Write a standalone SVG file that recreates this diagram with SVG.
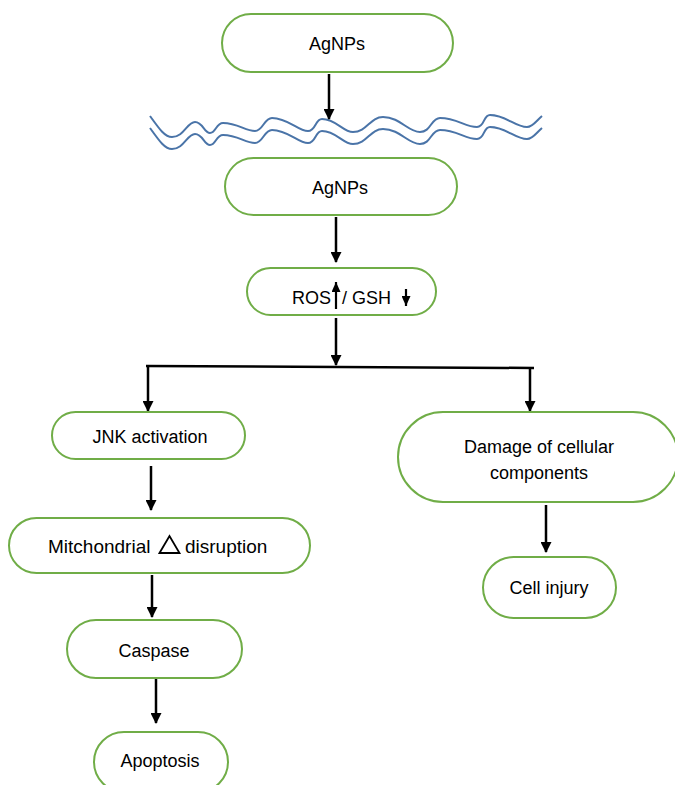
<svg xmlns="http://www.w3.org/2000/svg" xmlns:xlink="http://www.w3.org/1999/xlink" width="675" height="785" viewBox="0 0 675 785">
<style>
.node{fill:#fff;stroke:#70ad47;stroke-width:2}
.lbl{font-family:"Liberation Sans",Arial,sans-serif;font-size:18px;fill:#000;text-anchor:middle}
.edge{stroke:#000;stroke-width:2.5;fill:none}
.wave{stroke:#4a74a8;stroke-width:2;fill:none}
.sm{stroke:#000;stroke-width:2.2;fill:none}
</style>
<defs>
<marker id="ah" markerUnits="userSpaceOnUse" markerWidth="11" markerHeight="11" refX="10" refY="5.5" orient="auto" viewBox="0 0 11 11">
<path d="M0,0 L11,5.5 L0,11 z" fill="#000"/>
</marker>
<marker id="ahs" markerUnits="userSpaceOnUse" markerWidth="10" markerHeight="9" refX="10" refY="4.5" orient="auto" viewBox="0 0 10 9">
<path d="M0,0 L10,4.5 L0,9 z" fill="#000"/>
</marker>
<path id="wv" d="M150,116 C160,130 165,137 172,137 C184,137 187,122 195,122 C203,122 204,133 210,133 C216,133 216,123 223,123 C238,123 245,131 255,131 C263,131 264,118 272,118 C288,118 298,131 308,131 C316,131 315,119 322,119 C336,119 343,132 353,132 C367,132 370,117 383,117 C400,117 408,132 420,132 C431,132 431,118 440,118 C457,118 465,127 477,127 C485,127 483,115 490,115 C506,115 515,127 527,127 C533,127 536,121 542,116"/>
</defs>

<g id="membrane">
<use xlink:href="#wv" class="wave"/>
<use xlink:href="#wv" class="wave" transform="translate(0,12)"/>
</g>

<g id="connectors">
<line class="edge" x1="329" y1="74" x2="329" y2="119" marker-end="url(#ah)"/>
<line class="edge" x1="336" y1="217" x2="336" y2="262" marker-end="url(#ah)"/>
<line class="edge" x1="336" y1="318" x2="336" y2="365" marker-end="url(#ah)"/>
<line class="edge" x1="146" y1="366" x2="534" y2="368"/>
<line class="edge" x1="148" y1="366" x2="148" y2="411" marker-end="url(#ah)"/>
<line class="edge" x1="530" y1="368" x2="530" y2="411" marker-end="url(#ah)"/>
<line class="edge" x1="151" y1="466" x2="151" y2="510" marker-end="url(#ah)"/>
<line class="edge" x1="152" y1="575" x2="152" y2="617" marker-end="url(#ah)"/>
<line class="edge" x1="156" y1="679" x2="156" y2="723" marker-end="url(#ah)"/>
<line class="edge" x1="546" y1="505" x2="546" y2="552" marker-end="url(#ah)"/>
</g>

<g id="agnps-top">
<rect class="node" x="222" y="14" width="231" height="58" rx="29"/>
<text class="lbl" x="337" y="50">AgNPs</text>
</g>

<g id="agnps-inside">
<rect class="node" x="225" y="158" width="232" height="57" rx="28.5"/>
<text class="lbl" x="340" y="194">AgNPs</text>
</g>

<g id="ros-gsh">
<rect class="node" x="247" y="268" width="189" height="47" rx="23.5"/>
<text class="lbl" x="292" y="304" style="text-anchor:start">ROS</text>
<line class="sm" x1="336" y1="309" x2="336" y2="282" marker-end="url(#ahs)"/>
<text class="lbl" x="342" y="304" style="text-anchor:start">/ GSH</text>
<line class="sm" x1="406" y1="289" x2="406" y2="306" marker-end="url(#ahs)"/>
</g>

<g id="jnk">
<rect class="node" x="52" y="412" width="193" height="47" rx="23.5"/>
<text class="lbl" x="150" y="443">JNK activation</text>
</g>

<g id="mito">
<rect class="node" x="9" y="518" width="301" height="55" rx="27.5"/>
<text class="lbl" x="48" y="553" style="text-anchor:start;font-size:19px">Mitchondrial</text>
<path d="M159.5,553 L169.5,536 L179.5,553 Z" fill="none" stroke="#000" stroke-width="1.8"/>
<text class="lbl" x="185" y="553" style="text-anchor:start;font-size:19px">disruption</text>
</g>

<g id="caspase">
<rect class="node" x="67" y="620" width="175" height="58" rx="29"/>
<text class="lbl" x="154" y="657">Caspase</text>
</g>

<g id="apoptosis">
<rect class="node" x="94" y="732" width="134" height="60" rx="30"/>
<text class="lbl" x="160" y="767">Apoptosis</text>
</g>

<g id="damage">
<rect class="node" x="398" y="412" width="280" height="90" rx="45"/>
<text class="lbl" x="539" y="453">Damage of cellular</text>
<text class="lbl" x="539" y="479">components</text>
</g>

<g id="cell-injury">
<rect class="node" x="483" y="557" width="133" height="61" rx="30.5"/>
<text class="lbl" x="549" y="594">Cell injury</text>
</g>
</svg>
